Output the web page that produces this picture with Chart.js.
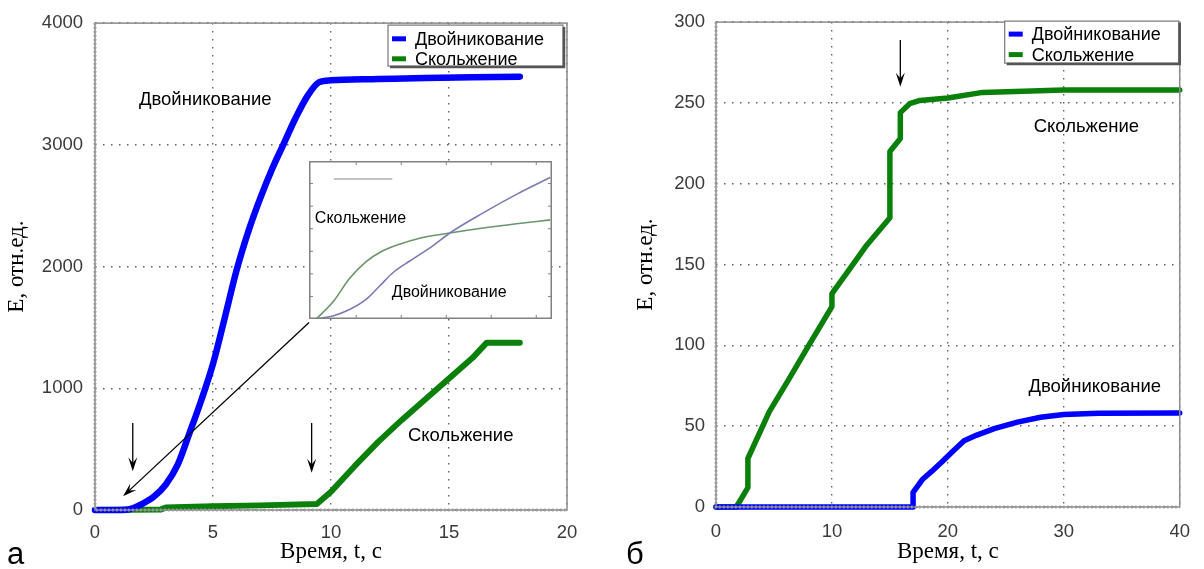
<!DOCTYPE html>
<html lang="ru">
<head>
<meta charset="utf-8">
<title>Энергия двойникования и скольжения</title>
<script src="https://cdn.jsdelivr.net/npm/chart.js@4.4.1/dist/chart.umd.min.js"></script>
<style>
  html, body { margin: 0; padding: 0; background: #fff; }
  #wrap { position: relative; width: 1204px; height: 569px; overflow: hidden; }
  canvas { position: absolute; top: 0; }
  #chartA { left: 0; }
  #chartB { left: 600px; }
  #inset { left: 309px; top: 161px; background: #fff; }
  .letter { position: absolute; font: 31px "Liberation Sans", Arial, sans-serif; color: #000; line-height: 1; }
</style>
</head>
<body>
<div id="wrap">
  <canvas id="chartA" width="600" height="569"></canvas>
  <canvas id="chartB" width="604" height="569"></canvas>
  <canvas id="inset" width="243" height="158"></canvas>
  <div class="letter" style="left:7px; top:538px">а</div>
  <div class="letter" style="left:626px; top:538px">б</div>
</div>
<script>
// (а) энергия при нагружении, t = 0..18 с
const twinTimeA = [0, 1, 1.5, 2, 2.5, 3, 3.5, 4, 4.5, 5, 5.5, 6, 6.5, 7, 7.5, 8, 8.5, 9, 9.5, 10, 12, 14, 16, 18];
const twinA = [0, 0, 8, 50, 110, 210, 370, 630, 900, 1200, 1580, 1970, 2290, 2560, 2800, 3010, 3220, 3400, 3515, 3530, 3540, 3550, 3555, 3560];
const slipTimeA = [0, 2.8, 3, 5, 7, 9.4, 10, 11, 12, 13, 14, 15, 16, 16.6, 18];
const slipA = [0, 5, 20, 30, 38, 50, 150, 360, 560, 740, 910, 1080, 1250, 1375, 1375];

// (б) энергия при нагружении, t = 0..40 с
const slipTimeB = [0, 1.75, 2.75, 2.75, 4.6, 6.2, 8, 10, 10, 11.6, 13, 15, 15, 15.9, 15.9, 16.7, 17.6, 20, 23, 30, 40];
const slipB = [0, 0, 12, 30, 59, 78, 100, 124, 132, 148, 162, 179, 220, 228, 244, 249.5, 251.5, 253, 256.5, 258, 258];
const twinTimeB = [0, 17, 17, 17.8, 18.6, 19.5, 20.5, 21.4, 22.5, 24, 26, 28, 30, 33, 40];
const twinB = [0, 0, 9, 17, 22, 28, 35, 41, 44.5, 48.5, 52.5, 55.5, 57.2, 58, 58.2];

// вставка: начальный участок кривых
const insetSlipTime = [0.11, 0.48, 0.85, 1.22, 1.56, 1.96, 2.41, 3.08, 3.82, 4.56, 5.31];
const insetSlip = [0, 0.75, 1.79, 2.54, 2.99, 3.31, 3.58, 3.81, 4.03, 4.22, 4.39];
const insetTwinTime = [0.11, 0.48, 0.85, 1.22, 1.52, 1.82, 2.19, 2.71, 3.08, 3.82, 4.56, 5.31];
const insetTwin = [0, 0.13, 0.42, 0.87, 1.46, 2.06, 2.57, 3.25, 3.81, 4.70, 5.52, 6.27];

const TWIN = 'Двойникование';
const SLIP = 'Скольжение';
const BLUE = '#0000ff';
const GREEN = '#0a800a';

const points = (xs, ys) => xs.map((x, i) => ({ x, y: ys[i] }));

const sans = '"Liberation Sans", Arial, sans-serif';
const serif = '"Liberation Serif", "Times New Roman", serif';

// frame round the plot area, hatched along the axis sides
const framePlugin = {
  id: 'frame',
  afterDraw(chart) {
    const { ctx, chartArea: a } = chart;
    ctx.save();
    ctx.strokeStyle = '#8a8a8a';
    ctx.lineWidth = 1.5;
    ctx.strokeRect(a.left, a.top, a.right - a.left, a.bottom - a.top);
    ctx.strokeStyle = '#9a9a9a';
    ctx.lineWidth = 3;
    ctx.setLineDash([1.5, 2.5]);
    ctx.beginPath();
    ctx.moveTo(a.left, a.top);
    ctx.lineTo(a.left, a.bottom);
    ctx.lineTo(a.right, a.bottom);
    ctx.stroke();
    ctx.restore();
  }
};

// legend box inside the upper right corner
const boxLegend = {
  id: 'boxLegend',
  afterDraw(chart, args, opts) {
    const { ctx, chartArea: a } = chart;
    const x = a.right - opts.right - opts.width;
    const y = a.top + opts.top;
    ctx.save();
    ctx.fillStyle = '#fff';
    ctx.fillRect(x, y, opts.width, opts.height);
    ctx.strokeStyle = '#777';
    ctx.lineWidth = 1.2;
    ctx.strokeRect(x, y, opts.width, opts.height);
    ctx.strokeStyle = '#555';
    ctx.lineWidth = 2.5;
    ctx.beginPath();
    ctx.moveTo(x + 2, y + opts.height + 1);
    ctx.lineTo(x + opts.width + 1, y + opts.height + 1);
    ctx.lineTo(x + opts.width + 1, y + 2);
    ctx.stroke();
    ctx.font = '18px ' + sans;
    ctx.textBaseline = 'middle';
    chart.data.datasets.forEach((ds, i) => {
      const ly = y + opts.firstRow + i * opts.rowGap;
      ctx.strokeStyle = ds.borderColor;
      ctx.lineWidth = 5;
      ctx.beginPath();
      ctx.moveTo(x + 4, ly);
      ctx.lineTo(x + 18, ly);
      ctx.stroke();
      ctx.fillStyle = '#000';
      ctx.fillText(ds.label, x + 27, ly + 1);
    });
    ctx.restore();
  }
};

// captions and arrows placed in data units
function drawArrow(ctx, x1, y1, x2, y2) {
  const ang = Math.atan2(y2 - y1, x2 - x1);
  const len = 14, half = 4.5;
  ctx.beginPath();
  ctx.moveTo(x1, y1);
  ctx.lineTo(x2 - Math.cos(ang) * 6, y2 - Math.sin(ang) * 6);
  ctx.stroke();
  ctx.beginPath();
  ctx.moveTo(x2, y2);
  ctx.lineTo(x2 - len * Math.cos(ang) + half * Math.sin(ang), y2 - len * Math.sin(ang) - half * Math.cos(ang));
  ctx.lineTo(x2 - 0.6 * len * Math.cos(ang), y2 - 0.6 * len * Math.sin(ang));
  ctx.lineTo(x2 - len * Math.cos(ang) - half * Math.sin(ang), y2 - len * Math.sin(ang) + half * Math.cos(ang));
  ctx.closePath();
  ctx.fill();
}

const notesPlugin = {
  id: 'notes',
  afterDraw(chart, args, opts) {
    const { ctx, scales: { x, y } } = chart;
    ctx.save();
    ctx.fillStyle = '#000';
    ctx.strokeStyle = '#000';
    ctx.lineWidth = 1.3;
    ctx.font = opts.font;
    ctx.textBaseline = 'middle';
    (opts.labels || []).forEach(l => {
      ctx.fillText(l.text, x.getPixelForValue(l.x), y.getPixelForValue(l.y));
    });
    (opts.arrows || []).forEach(ar => {
      drawArrow(ctx, x.getPixelForValue(ar.from[0]), y.getPixelForValue(ar.from[1]),
        x.getPixelForValue(ar.to[0]), y.getPixelForValue(ar.to[1]));
    });
    ctx.restore();
  }
};

function mainOptions(cfg) {
  return {
    responsive: false,
    animation: false,
    layout: { padding: { top: cfg.top, right: cfg.right, left: 0, bottom: 0 } },
    elements: { point: { radius: 0 } },
    plugins: {
      legend: { display: false },
      tooltip: { enabled: false },
      boxLegend: cfg.legend,
      notes: cfg.notes
    },
    scales: {
      x: {
        type: 'linear',
        min: 0,
        max: cfg.xMax,
        afterFit: s => { s.height = cfg.xHeight; },
        afterBuildTicks: s => { s.ticks = cfg.xTicks.map(v => ({ value: v })); },
        grid: { color: 'rgba(70,70,70,0.85)', lineWidth: 1.4, drawTicks: false },
        border: { display: false, dash: [1.5, 6.5] },
        ticks: { color: '#3a3a3a', padding: cfg.xPad, font: { family: sans, size: 18.5 }, callback: v => String(v) },
        title: { display: true, text: 'Время, t, с', color: '#000', font: { family: serif, size: 23 }, padding: { bottom: 3.5 } }
      },
      y: {
        min: 0,
        max: cfg.yMax,
        afterFit: s => { s.width = cfg.yWidth; },
        afterBuildTicks: s => { s.ticks = cfg.yTicks.map(v => ({ value: v })); },
        grid: { color: 'rgba(70,70,70,0.85)', lineWidth: 1.4, drawTicks: false },
        border: { display: false, dash: [1.5, 6.5] },
        ticks: { color: '#3a3a3a', padding: cfg.yPad, font: { family: sans, size: 18.5 }, callback: v => String(v) },
        title: { display: true, text: 'E, отн.ед.', color: '#000', font: { family: serif, size: 23 }, padding: { top: cfg.yTitlePad } }
      }
    }
  };
}

const lineSet = (label, data, color, width, extra) => Object.assign({
  label, data, borderColor: color, backgroundColor: color,
  borderWidth: width, tension: 0, clip: false, borderCapStyle: 'round', borderJoinStyle: 'round'
}, extra);

new Chart(document.getElementById('chartA'), {
  type: 'line',
  data: {
    datasets: [
      lineSet(TWIN, points(twinTimeA, twinA), BLUE, 6.5, { cubicInterpolationMode: 'monotone' }),
      lineSet(SLIP, points(slipTimeA, slipA), GREEN, 6)
    ]
  },
  options: mainOptions({
    top: 16, right: 33, xMax: 20, yMax: 4000, xHeight: 59, yWidth: 95, xPad: 12, yPad: 12, yTitlePad: 3,
    xTicks: [0, 5, 10, 15, 20], yTicks: [0, 1000, 2000, 3000, 4000],
    legend: { width: 175, height: 41, right: 4, top: 2, firstRow: 13.7, rowGap: 20 },
    notes: {
      font: '18.5px ' + sans,
      labels: [
        { text: TWIN, x: 1.86, y: 3366 },
        { text: SLIP, x: 13.26, y: 607 }
      ],
      arrows: [
        { from: [1.6, 715], to: [1.6, 318] },
        { from: [9.18, 715], to: [9.18, 305] },
        { from: [9.07, 1540], to: [1.19, 113] }
      ]
    }
  }),
  plugins: [framePlugin, notesPlugin, boxLegend]
});

new Chart(document.getElementById('chartB'), {
  type: 'line',
  data: {
    datasets: [
      lineSet(TWIN, points(twinTimeB, twinB), BLUE, 5.5),
      lineSet(SLIP, points(slipTimeB, slipB), GREEN, 5.5)
    ]
  },
  options: mainOptions({
    top: 16.5, right: 18, xMax: 40, yMax: 300, xHeight: 62, yWidth: 116, xPad: 14, yPad: 11, yTitlePad: 32,
    xTicks: [0, 10, 20, 30, 40], yTicks: [0, 50, 100, 150, 200, 250, 300],
    legend: { width: 174, height: 42, right: 1, top: -1, firstRow: 13, rowGap: 20.5 },
    notes: {
      font: '18.5px ' + sans,
      labels: [
        { text: SLIP, x: 27.4, y: 235 },
        { text: TWIN, x: 26.95, y: 74 }
      ],
      arrows: [
        { from: [15.9, 289], to: [15.9, 260] }
      ]
    }
  }),
  plugins: [framePlugin, notesPlugin, boxLegend]
});

// inset: border with inward ticks, captions
const insetFrame = {
  id: 'insetFrame',
  afterDraw(chart, args, opts) {
    const { ctx, chartArea: a, scales: { x, y } } = chart;
    ctx.save();
    ctx.strokeStyle = '#808080';
    ctx.lineWidth = 1.5;
    ctx.strokeRect(a.left + 0.75, a.top + 0.75, a.right - a.left - 1.5, a.bottom - a.top - 1.5);
    ctx.lineWidth = 1;
    ctx.beginPath();
    opts.xMarks.forEach(v => {
      const px = x.getPixelForValue(v);
      ctx.moveTo(px, a.top); ctx.lineTo(px, a.top + 4);
      ctx.moveTo(px, a.bottom); ctx.lineTo(px, a.bottom - 4);
    });
    opts.yMarks.forEach(v => {
      const py = y.getPixelForValue(v);
      ctx.moveTo(a.left, py); ctx.lineTo(a.left + 4, py);
      ctx.moveTo(a.right, py); ctx.lineTo(a.right - 4, py);
    });
    ctx.stroke();
    // faint remnant of an erased caption
    ctx.strokeStyle = 'rgba(120,120,120,0.6)';
    ctx.lineWidth = 1.5;
    ctx.beginPath();
    ctx.moveTo(x.getPixelForValue(0.5), y.getPixelForValue(6.2));
    ctx.lineTo(x.getPixelForValue(1.8), y.getPixelForValue(6.2));
    ctx.stroke();
    ctx.fillStyle = '#000';
    ctx.font = '16px ' + sans;
    ctx.textBaseline = 'middle';
    opts.labels.forEach(l => ctx.fillText(l.text, x.getPixelForValue(l.x), y.getPixelForValue(l.y)));
    ctx.restore();
  }
};

new Chart(document.getElementById('inset'), {
  type: 'line',
  data: {
    datasets: [
      { label: TWIN, data: points(insetTwinTime, insetTwin), borderColor: '#7a7ab4', borderWidth: 1.6, cubicInterpolationMode: 'monotone', pointRadius: 0 },
      { label: SLIP, data: points(insetSlipTime, insetSlip), borderColor: '#6a956a', borderWidth: 1.6, cubicInterpolationMode: 'monotone', pointRadius: 0 }
    ]
  },
  options: {
    responsive: false,
    animation: false,
    layout: { padding: 0 },
    plugins: {
      legend: { display: false },
      tooltip: { enabled: false },
      insetFrame: {
        xMarks: [1, 2, 3, 4, 5],
        yMarks: [1, 2, 3, 4, 5, 6],
        labels: [
          { text: SLIP, x: 0.08, y: 4.46 },
          { text: TWIN, x: 1.79, y: 1.19 }
        ]
      }
    },
    scales: {
      x: { type: 'linear', display: false, min: -0.05, max: 5.35 },
      y: { display: false, min: 0, max: 7 }
    }
  },
  plugins: [insetFrame]
});
</script>
</body>
</html>
